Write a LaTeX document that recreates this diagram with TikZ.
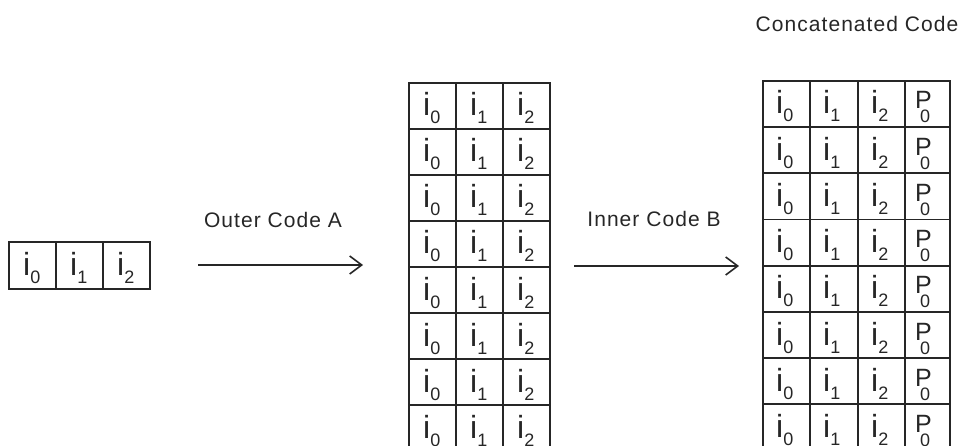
\documentclass[tikz,border=0pt]{standalone}
\usepackage{fontspec}
\setmainfont{Liberation Sans}
\usetikzlibrary{arrows.meta}
\newcommand\isb[1]{\fontsize{32}{32}\selectfont i\raisebox{-8pt}{\fontsize{18}{18}\selectfont #1}}
\newcommand\psb{\fontsize{25}{25}\selectfont\rlap{P}\hspace{5pt}\raisebox{-14pt}{\fontsize{18}{18}\selectfont 0}}
\begin{document}
\begin{tikzpicture}[x=1pt,y=-1pt,
 cell/.style={draw=black!85, line width=1.7pt, rectangle, inner sep=0pt, anchor=north west},
 lbl/.style={inner sep=0pt, anchor=base west, text=black!85},
 captxt/.style={font=\fontsize{21}{21}\selectfont\addfontfeatures{LetterSpace=5}, text=black!85, inner sep=0pt},
 arr/.style={line width=1.6pt, draw=black!85, -{Straight Barb[length=12pt,width=18pt]}}]
\useasboundingbox (0,0) rectangle (968,446);
\clip (0,0) rectangle (968,446);
% small input box
\foreach \c/\x in {0/8,1/55,2/102}{
  \node[cell,minimum width=47pt,minimum height=47pt] (s\c) at (\x,241) {};
  \node[lbl] (sl\c) at (\x+15,275) {\isb{\c}};
}
% middle grid
\foreach \r in {0,...,7}{
  \foreach \c/\x in {0/408,1/455,2/502}{
    \node[cell,minimum width=47pt,minimum height=46pt] (m\r\c) at (\x,82+46*\r) {};
    \node[lbl] (ml\r\c) at (\x+15,82+46*\r+34) {\isb{\c}};
  }
}
% right grid
\foreach \r in {0,...,7}{
  \foreach \c/\x/\w in {0/762/47,1/809/48,2/857/47}{
    \node[cell,minimum width=\w pt,minimum height=46.2pt] (r\r\c) at (\x,80+46.2*\r) {};
    \node[lbl] (rl\r\c) at (\x+14,80+46.2*\r+34) {\isb{\c}};
  }
  \node[cell,minimum width=45pt,minimum height=46.2pt] (r\r3) at (904,80+46.2*\r) {};
  \node[lbl] (rl\r3) at (915,80+46.2*\r+29) {\psb};
}
% labels
\node[captxt] (outer) at (273,220) {Outer Code A};
\node[captxt] (inner) at (654,219) {Inner Code B};
\node[captxt] (concat) at (857,24) {Concatenated Code};
% arrows
\coordinate (a1s) at (198,265);
\coordinate (a1e) at (363,265);
\coordinate (a2s) at (574,266);
\coordinate (a2e) at (739,266);
\draw[arr] (a1s) -- (a1e);
\draw[arr] (a2s) -- (a2e);
\end{tikzpicture}
\end{document}
